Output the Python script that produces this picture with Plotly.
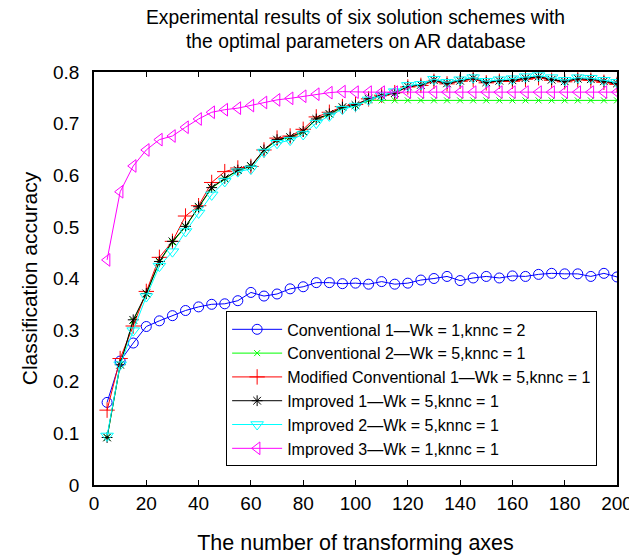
import plotly.graph_objects as go

x_axes = list(range(5, 205, 5))

conv1 = [0.160, 0.240, 0.275, 0.307, 0.318, 0.328, 0.338, 0.345, 0.350, 0.351,
         0.357, 0.373, 0.366, 0.370, 0.380, 0.384, 0.392, 0.392, 0.390, 0.391,
         0.389, 0.394, 0.389, 0.391, 0.397, 0.400, 0.404, 0.396, 0.401, 0.404,
         0.401, 0.405, 0.404, 0.408, 0.410, 0.409, 0.409, 0.404, 0.410, 0.403]

conv2 = [0.092, 0.232, 0.318, 0.370, 0.432, 0.470, 0.500, 0.538, 0.575, 0.593,
         0.609, 0.617, 0.648, 0.668, 0.673, 0.684, 0.708, 0.718, 0.731, 0.735,
         0.745, 0.745, 0.745, 0.745, 0.745, 0.745, 0.745, 0.745, 0.745, 0.745,
         0.745, 0.745, 0.745, 0.745, 0.745, 0.745, 0.745, 0.745, 0.745, 0.745]

modconv1 = [0.145, 0.245, 0.308, 0.375, 0.441, 0.472, 0.521, 0.541, 0.586, 0.607,
            0.614, 0.617, 0.649, 0.672, 0.676, 0.689, 0.713, 0.722, 0.733, 0.737,
            0.748, 0.755, 0.760, 0.771, 0.774, 0.782, 0.777, 0.782, 0.786, 0.779,
            0.782, 0.782, 0.786, 0.789, 0.784, 0.781, 0.785, 0.784, 0.780, 0.776]

improved1 = [0.092, 0.233, 0.320, 0.371, 0.433, 0.472, 0.501, 0.539, 0.576, 0.594,
             0.610, 0.618, 0.649, 0.669, 0.674, 0.685, 0.709, 0.719, 0.732, 0.736,
             0.748, 0.754, 0.759, 0.772, 0.775, 0.784, 0.778, 0.783, 0.788, 0.780,
             0.783, 0.784, 0.788, 0.791, 0.785, 0.782, 0.787, 0.786, 0.782, 0.778]

improved2 = [0.095, 0.233, 0.299, 0.365, 0.424, 0.452, 0.491, 0.527, 0.562, 0.588,
             0.607, 0.612, 0.645, 0.662, 0.668, 0.679, 0.701, 0.715, 0.728, 0.734,
             0.746, 0.754, 0.762, 0.774, 0.776, 0.786, 0.780, 0.785, 0.789, 0.782,
             0.785, 0.787, 0.791, 0.793, 0.789, 0.784, 0.789, 0.788, 0.784, 0.780]

improved3 = [0.436, 0.568, 0.618, 0.649, 0.669, 0.676, 0.693, 0.709, 0.722, 0.727,
             0.730, 0.735, 0.741, 0.746, 0.749, 0.753, 0.757, 0.760, 0.762, 0.761,
             0.761, 0.761, 0.761, 0.761, 0.761, 0.761, 0.761, 0.761, 0.761, 0.761,
             0.761, 0.761, 0.761, 0.761, 0.761, 0.761, 0.761, 0.761, 0.761, 0.761]

x_ticks = [0, 20, 40, 60, 80, 100, 120, 140, 160, 180, 200]
x_ticklabels = ["0", "20", "40", "60", "80", "100", "120", "140", "160", "180", "200"]
y_ticks = [0, 0.1, 0.2, 0.3, 0.4, 0.5, 0.6, 0.7, 0.8]
y_ticklabels = ["0", "0.1", "0.2", "0.3", "0.4", "0.5", "0.6", "0.7", "0.8"]

title_lines = ["Experimental results of six solution schemes with",
               "the optimal parameters on AR database"]

series = [
    ("Conventional 1\u2014Wk = 1,knnc = 2", conv1, "#0000ff", "circle-open", 10),
    ("Conventional 2\u2014Wk = 5,knnc = 1", conv2, "#00ff00", "x-thin-open", 6),
    ("Modified Conventional 1\u2014Wk = 5,knnc = 1", modconv1, "#ff0000", "cross-thin-open", 11),
    ("Improved 1\u2014Wk = 5,knnc = 1", improved1, "#000000", "asterisk-open", 9),
    ("Improved 2\u2014Wk = 5,knnc = 1", improved2, "#00ffff", "triangle-down-open", 11),
    ("Improved 3\u2014Wk = 1,knnc = 1", improved3, "#ff00ff", "triangle-left-open", 11),
]

fig = go.Figure()
for name, ys, color, sym, size in series:
    fig.add_trace(go.Scatter(
        x=x_axes, y=ys, name=name, mode="lines+markers",
        line=dict(color=color, width=1),
        marker=dict(symbol=sym, size=size, color=color, line=dict(color=color, width=1)),
    ))

font_family = "Liberation Sans, Arial, sans-serif"

# title as two centred text lines above the plot area
for line, ypx in zip(title_lines, [18, 41]):
    fig.add_annotation(
        text=line, xref="paper", yref="paper", x=0.5, y=(485 - ypx) / 413,
        xanchor="center", yanchor="middle", showarrow=False,
        font=dict(size=19.3, family=font_family, color="black"),
    )

# the page body has an 8px margin, so the figure is drawn 8px smaller
fig.update_layout(
    width=629, height=547,
    margin=dict(l=86, r=20, t=64, b=70, autoexpand=False),
    paper_bgcolor="white", plot_bgcolor="white",
    font=dict(family=font_family, color="black", size=19),
    legend=dict(
        x=0.962, y=0.045, xanchor="right", yanchor="bottom",
        bordercolor="black", borderwidth=1, bgcolor="white",
        font=dict(size=16, family=font_family, color="black"),
        tracegroupgap=0, itemwidth=50,
    ),
    showlegend=True,
    # labelled y axis: invisible outside ticks only push the labels away from the frame
    yaxis=dict(
        range=[0, 0.8], tickmode="array", tickvals=y_ticks, ticktext=y_ticklabels,
        ticks="outside", ticklen=9, tickcolor="rgba(0,0,0,0)",
        showline=True, linecolor="black", linewidth=1.5, mirror=True,
        showgrid=False, zeroline=False, automargin=False,
        title=dict(text="Classification accuracy", font=dict(size=21), standoff=10),
        tickfont=dict(size=19),
    ),
    # overlay axis drawing the inward tick marks on left and right
    yaxis2=dict(
        overlaying="y", matches="y", anchor="x", side="left",
        range=[0, 0.8], tickmode="array", tickvals=y_ticks,
        ticks="inside", ticklen=5, tickcolor="black", tickwidth=1,
        showticklabels=False, showline=True, linecolor="black", linewidth=1.5,
        mirror="ticks", showgrid=False, zeroline=False, automargin=False,
    ),
)
fig.update_xaxes(
    range=[0, 200], tickmode="array", tickvals=x_ticks, ticktext=x_ticklabels,
    ticks="inside", ticklen=5, tickcolor="black", tickwidth=1,
    showline=True, linecolor="black", linewidth=1.5, mirror="ticks",
    showgrid=False, zeroline=False, automargin=False,
    title=dict(text="The number of transforming axes", font=dict(size=21.5), standoff=26),
    tickfont=dict(size=19),
)

fig.write_html("out.html")
